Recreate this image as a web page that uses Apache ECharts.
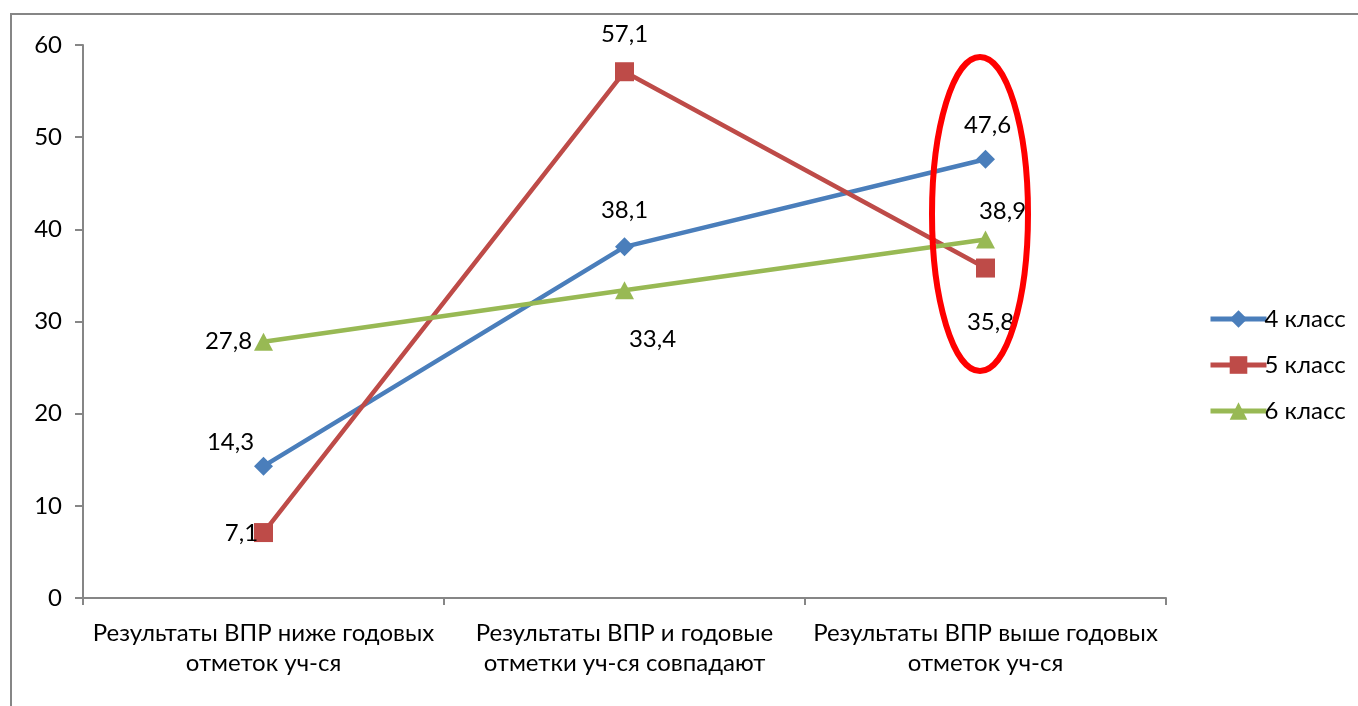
<!DOCTYPE html>
<html><head><meta charset="utf-8">
<script src="https://cdn.jsdelivr.net/npm/echarts@6/dist/echarts.min.js"></script>
<style>html,body{margin:0;padding:0;background:#fff}#c{width:1358px;height:706px}</style>
</head><body><div id="c"></div>
<script>
var categories = ['Результаты ВПР ниже годовых\nотметок уч-ся', 'Результаты ВПР и годовые\nотметки уч-ся совпадают', 'Результаты ВПР выше годовых\nотметок уч-ся'];
var seriesNames = ['4 класс', '5 класс', '6 класс'];
var grade4 = [14.3, 38.1, 47.6];
var grade5 = [7.1, 57.1, 35.8];
var grade6 = [27.8, 33.4, 38.9];
var yTicks = [0, 10, 20, 30, 40, 50, 60];

var colors = ['#4A7EBB', '#BE4B48', '#98B954'];
var symbols = ['diamond', 'rect', 'triangle'];
var symbolSizes = [[19, 19], [19, 19], [19, 18]];
var labelOffsets = [
  [[-33, -24], [0, -37], [2, -34]],
  [[-22, 1], [0, -37], [5, 54]],
  [[-35, -1], [28, 49], [17, -28]]
];
var allData = [grade4, grade5, grade6];
var FONT = 'Lato';
var FS = 24;

var chart = echarts.init(document.getElementById('c'));
var series = allData.map(function (vals, si) {
  return {
    name: seriesNames[si],
    type: 'line',
    symbol: symbols[si],
    symbolSize: symbolSizes[si],
    lineStyle: { color: colors[si], width: 4.5 },
    itemStyle: { color: colors[si] },
    z: 2 + si,
    data: vals.map(function (v, i) {
      return {
        value: v,
        label: {
          show: true,
          position: 'inside',
          offset: labelOffsets[si][i],
          align: 'center',
          verticalAlign: 'middle',
          color: '#000',
          fontFamily: FONT,
          fontSize: FS,
          formatter: function (p) { return String(p.value).replace('.', ','); }
        }
      };
    }),
    emphasis: { disabled: true },
    animation: false
  };
});

chart.setOption({
  animation: false,
  textStyle: { fontFamily: FONT },
  grid: { left: 83, right: 192, top: 45, bottom: 108, containLabel: false },
  legend: {
    orient: 'vertical',
    left: 1203,
    top: 302,
    itemWidth: 56,
    itemHeight: 22,
    itemGap: 22,
    lineStyle: { width: 5 },
    textStyle: { fontFamily: FONT, fontSize: FS, color: '#000', padding: [0, 0, 0, -7] },
    data: seriesNames
  },
  xAxis: {
    type: 'category',
    data: categories,
    boundaryGap: true,
    axisLine: { lineStyle: { color: '#868686', width: 2 } },
    axisTick: { show: true, length: 7, lineStyle: { color: '#868686', width: 2 } },
    axisLabel: { color: '#000', fontFamily: FONT, fontSize: FS, lineHeight: 30, margin: 20, interval: 0 },
    splitLine: { show: false }
  },
  yAxis: {
    type: 'value',
    min: yTicks[0],
    max: yTicks[yTicks.length - 1],
    interval: yTicks[1] - yTicks[0],
    axisLine: { show: true, lineStyle: { color: '#868686', width: 2 } },
    axisTick: { show: true, length: 8, lineStyle: { color: '#868686', width: 2 } },
    axisLabel: { color: '#000', fontFamily: FONT, fontSize: FS, margin: 21 },
    splitLine: { show: false }
  },
  graphic: [
    { type: 'rect', shape: { x: 11, y: 14, width: 1500, height: 900 }, style: { fill: null, stroke: '#868686', lineWidth: 2 }, z: 0, silent: true },
    { type: 'ellipse', shape: { cx: 980, cy: 214, rx: 48, ry: 157 }, style: { fill: null, stroke: '#FF0000', lineWidth: 6 }, z: 100, silent: true }
  ],
  series: series
});
</script></body></html>
